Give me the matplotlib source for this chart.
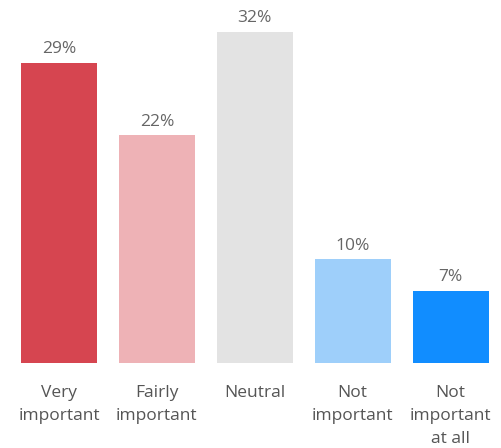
import matplotlib.pyplot as plt

categories = ["Very\nimportant", "Fairly\nimportant", "Neutral", "Not\nimportant", "Not\nimportant\nat all"]
values = [29, 22, 32, 10, 7]
colors = ["#D64550", "#EEB2B6", "#E3E3E3", "#9ECFFA", "#118DFF"]

plt.rcParams['font.family'] = ['Open Sans', 'DejaVu Sans']

fig = plt.figure(figsize=(5.02, 4.48), dpi=100)
ax = fig.add_axes([10/502, 85/448, 489.5/502, 352/448])

x = list(range(len(values)))
bars = ax.bar(x, values, width=0.776, color=colors)

for b, v in zip(bars, values):
    ax.annotate(str(v) + "%", (b.get_x() + b.get_width()/2, v),
                xytext=(0, 4), textcoords="offset points",
                ha="center", va="bottom", fontsize=12.5, color="#666666")

ax.set_xlim(-0.5, 4.5)
ax.set_ylim(0, 34)
ax.set_xticks(x)
ax.set_xticklabels(categories, fontsize=12.5, color="#555555", linespacing=1.6)
ax.tick_params(axis="x", length=0, pad=15.5)
ax.set_yticks([])
for s in ax.spines.values():
    s.set_visible(False)

plt.savefig("out.png", dpi=100)
